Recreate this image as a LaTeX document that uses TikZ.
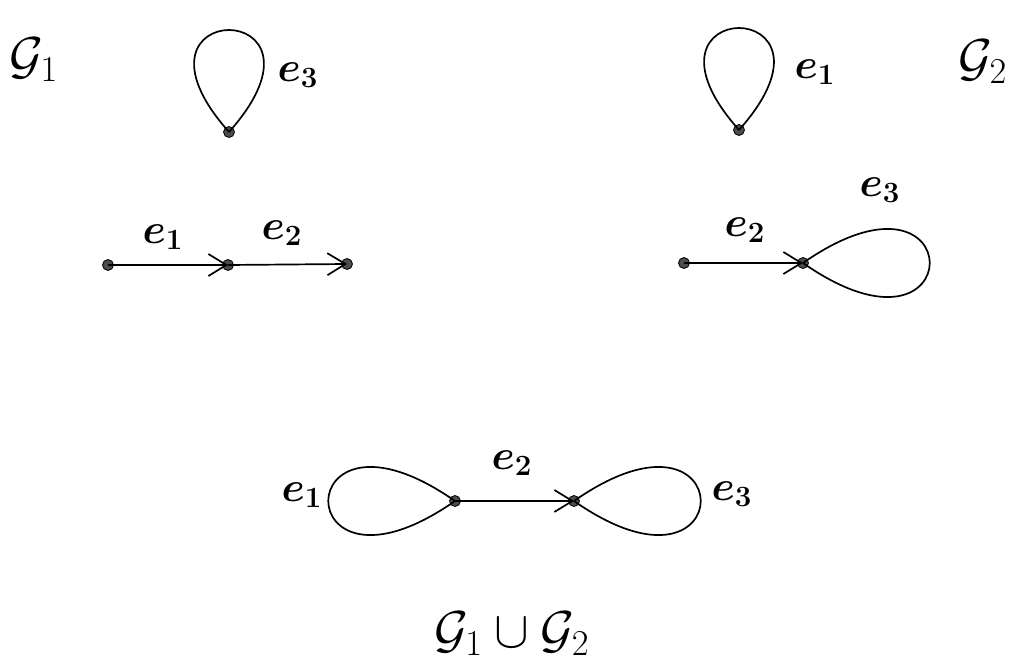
\RequirePackage{fix-cm}
\documentclass[tikz,border=0pt]{standalone}
\usepackage{amsmath}
\usepackage{amssymb}
\usepackage{bm}
\usepackage{tikz}
\usetikzlibrary{arrows.meta,positioning}
\tikzset{
  gvert/.style={circle, draw=black, fill=black!70, line width=0.4pt, minimum size=5.5pt, inner sep=0pt},
  gedge/.style={line width=0.85pt, -{Straight Barb[length=9pt, width=11pt, line width=0.85pt]}},
  gloop/.style={line width=0.85pt},
  glabel/.style={font=\fontsize{21}{25}\selectfont, inner sep=1pt},
  gname/.style={font=\fontsize{26}{31}\selectfont, inner sep=0pt}
}

\begin{document}
\begin{tikzpicture}[x=0.5pt, y=-0.5pt]
  \useasboundingbox (0,0) rectangle (1027,662);
  % G_1
  \node[gname] (nameone) at (34,60) {$\mathcal{G}_1$};
  \node[gvert] (toploop) at (229,132) {};
  \node[gvert] (ga) at (108,265) {};
  \node[gvert] (gb) at (228,265) {};
  \node[gvert] (gc) at (347,264) {};
  \draw[gloop] (toploop.center) .. controls +(-121,-136) and +(121,-136) .. (toploop.center);
  \draw[gedge] (ga.center) -- (gb.center);
  \draw[gedge] (gb.center) -- (gc.center);
  \node[glabel] (loneethree) at (298,75) {$\bm{e_3}$};
  \node[glabel] (loneeone) at (163,237) {$\bm{e_1}$};
  \node[glabel] (loneetwo) at (282,233) {$\bm{e_2}$};
  % G_2
  \node[gname] (nametwo) at (983,62) {$\mathcal{G}_2$};
  \node[gvert] (toploopb) at (739,130) {};
  \node[gvert] (gd) at (684,263) {};
  \node[gvert] (ge) at (803,263) {};
  \draw[gloop] (toploopb.center) .. controls +(-121,-136) and +(121,-136) .. (toploopb.center);
  \draw[gloop] (ge.center) .. controls +(169,-118) and +(169,118) .. (ge.center);
  \draw[gedge] (gd.center) -- (ge.center);
  \node[glabel] (ltwoeone) at (815,72) {$\bm{e_1}$};
  \node[glabel] (ltwoetwo) at (745,230) {$\bm{e_2}$};
  \node[glabel] (ltwoethree) at (880,190) {$\bm{e_3}$};
  % union
  \node[gvert] (gu) at (455,501) {};
  \node[gvert] (gw) at (574,501) {};
  \draw[gloop] (gu.center) .. controls +(-169,-118) and +(-169,118) .. (gu.center);
  \draw[gloop] (gw.center) .. controls +(169,-118) and +(169,118) .. (gw.center);
  \draw[gedge] (gu.center) -- (gw.center);
  \node[glabel] (ueone) at (302,495) {$\bm{e_1}$};
  \node[glabel] (uetwo) at (512,463) {$\bm{e_2}$};
  \node[glabel] (uethree) at (732,494) {$\bm{e_3}$};
  \node[gname] (nameunion) at (512,634) {$\mathcal{G}_1 \cup \mathcal{G}_2$};
\end{tikzpicture}
\end{document}
